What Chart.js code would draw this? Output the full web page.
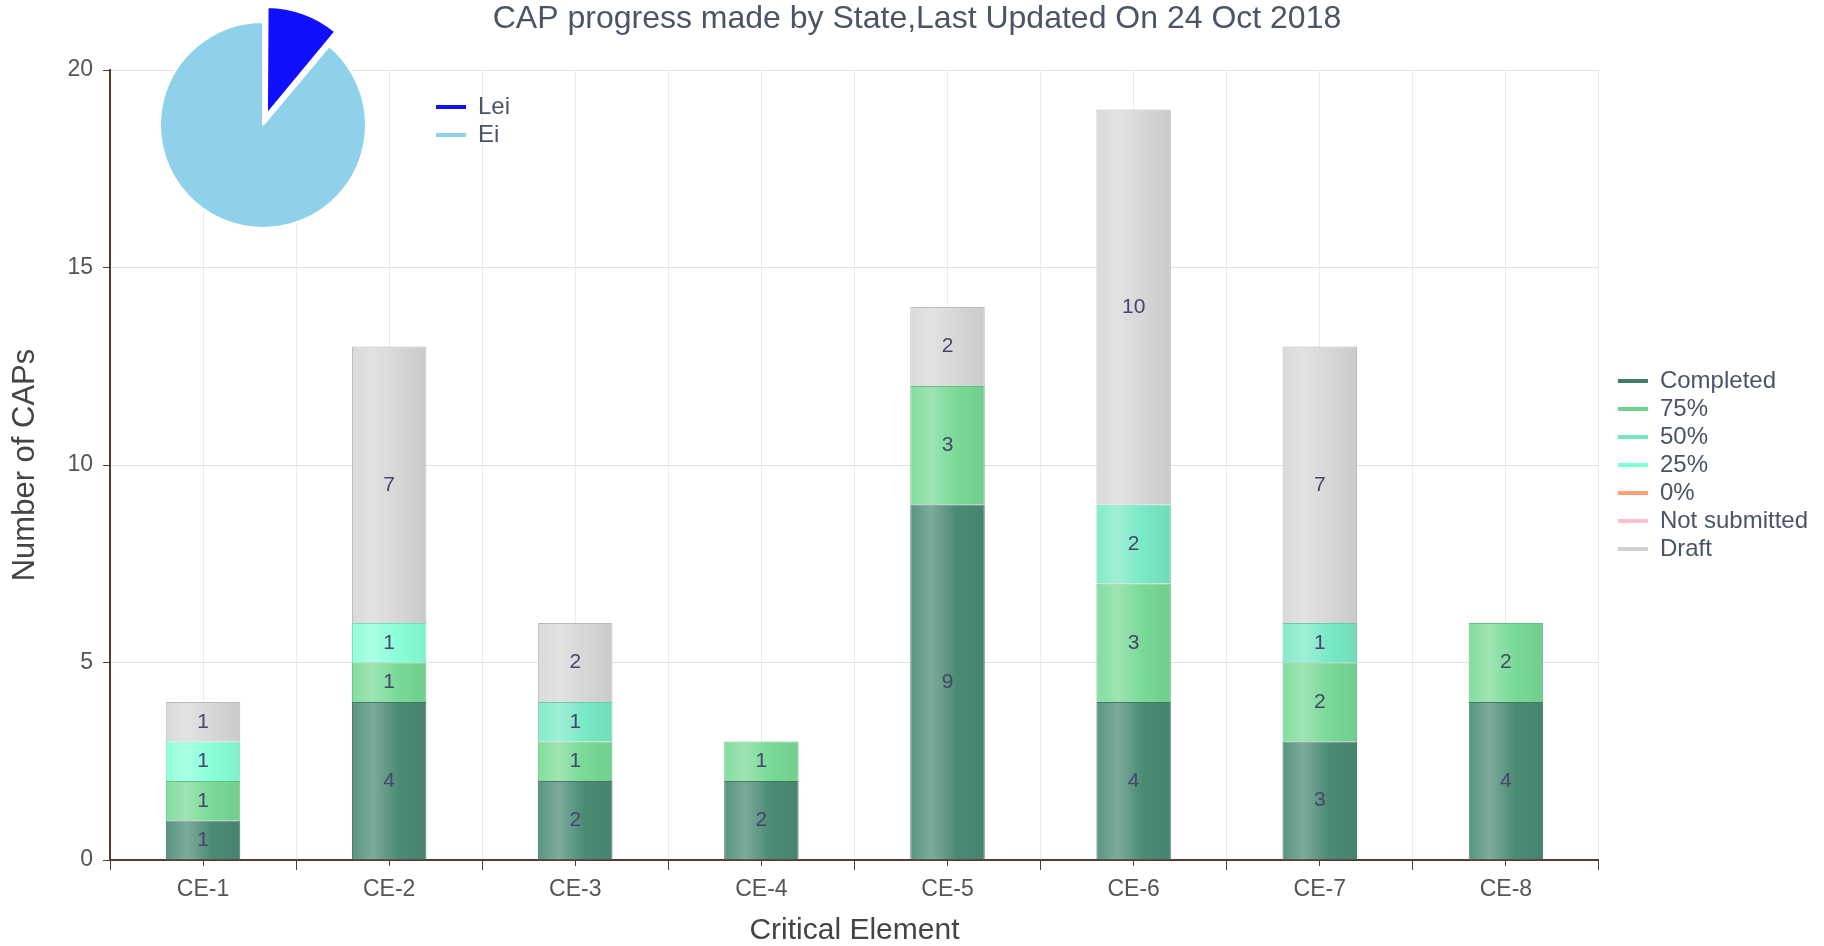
<!DOCTYPE html>
<html>
<head>
<meta charset="utf-8">
<script src="https://cdn.jsdelivr.net/npm/chart.js@4/dist/chart.umd.min.js"></script>
<style>
  html, body { margin: 0; padding: 0; background: #fff; }
  #wrap { position: relative; width: 1824px; height: 946px; }
  #mainChart, #pieChart { position: absolute; left: 0; top: 0; }
</style>
</head>
<body>
<div id="wrap">
  <canvas id="mainChart" width="1824" height="946"></canvas>
  <canvas id="pieChart" width="560" height="250"></canvas>
</div>
<script>
const categories = ["CE-1", "CE-2", "CE-3", "CE-4", "CE-5", "CE-6", "CE-7", "CE-8"];
const completed = [1, 4, 2, 2, 9, 4, 3, 4];
const pct75 = [1, 1, 1, 1, 3, 3, 2, 2];
const pct50 = [0, 0, 1, 0, 0, 2, 1, 0];
const pct25 = [1, 1, 0, 0, 0, 0, 0, 0];
const pct0 = [0, 0, 0, 0, 0, 0, 0, 0];
const notSubmitted = [0, 0, 0, 0, 0, 0, 0, 0];
const draft = [1, 7, 2, 0, 2, 10, 7, 0];
const yTicks = [0, 5, 10, 15, 20];

const seriesNames = ["Completed", "75%", "50%", "25%", "0%", "Not submitted", "Draft"];
const seriesValues = [completed, pct75, pct50, pct25, pct0, notSubmitted, draft];

const pieLabels = ["Lei", "Ei"];
const pieValues = [1, 8];

// styles
const fontFamily = '"Liberation Sans", Arial, Helvetica, sans-serif';
const barColors = ["#4b8b74", "#78da96", "#79e9c6", "#88ffd8", "#ffa07a", "#ffc0cb", "#d7d7d7"];
const legendColors = ["#3f7f67", "#6cd68c", "#72e6c2", "#80ffd4", "#ff9f72", "#ffc0cb", "#d0d0d0"];
const pieColors = ["#1010ff", "#8fd0ea"];
const axisColor = "#5b3b30";
const barShare = 0.4;

Chart.defaults.font.family = fontFamily;

function hexToRgb(hex) {
  const n = parseInt(hex.slice(1), 16);
  return [(n >> 16) & 255, (n >> 8) & 255, n & 255];
}

function mix(hex, other, t) {
  const a = hexToRgb(hex);
  const b = hexToRgb(other);
  const c = a.map((v, i) => Math.round(v + (b[i] - v) * t));
  return "rgb(" + c.join(",") + ")";
}

// glassy horizontal shading, like the original bars
function glassFill(base) {
  const light = mix(base, "#ffffff", 0.28);
  const dark = mix(base, "#000000", 0.06);
  return (ctx) => {
    const chart = ctx.chart;
    const xs = chart.scales.x;
    if (ctx.type !== "data" || !xs || !chart.chartArea) return base;
    const cx = xs.getPixelForValue(ctx.dataIndex);
    const half = (xs.width / categories.length) * barShare / 2;
    const g = chart.ctx.createLinearGradient(cx - half, 0, cx + half, 0);
    g.addColorStop(0, mix(base, "#ffffff", 0.08));
    g.addColorStop(0.28, light);
    g.addColorStop(0.62, base);
    g.addColorStop(1, dark);
    return g;
  };
}

const barLabels = {
  id: "barLabels",
  afterDatasetsDraw(chart) {
    const { ctx } = chart;
    ctx.save();
    ctx.font = "21px " + fontFamily;
    ctx.fillStyle = "#46466c";
    ctx.textAlign = "center";
    ctx.textBaseline = "middle";
    chart.data.datasets.forEach((ds, i) => {
      const meta = chart.getDatasetMeta(i);
      if (meta.hidden) return;
      meta.data.forEach((bar, j) => {
        const v = ds.data[j];
        if (!v) return;
        ctx.fillText(String(v), bar.x, (bar.y + bar.base) / 2);
      });
    });
    ctx.restore();
  },
};

const mainChart = new Chart(document.getElementById("mainChart"), {
  type: "bar",
  data: {
    labels: categories,
    datasets: seriesNames.map((name, i) => ({
      label: name,
      data: seriesValues[i].map((v) => (v ? v : null)),
      backgroundColor: glassFill(barColors[i]),
      borderColor: mix(barColors[i], "#000000", 0.13),
      borderWidth: 1,
      categoryPercentage: barShare,
      barPercentage: 1,
    })),
  },
  options: {
    responsive: false,
    animation: false,
    layout: { padding: { top: 0, right: 6, bottom: 0, left: 16 } },
    plugins: {
      title: {
        display: true,
        text: "CAP progress made by State,Last Updated On 24 Oct 2018",
        color: "#4b5567",
        font: { size: 32, weight: "normal" },
        padding: { top: 0, bottom: 31.6 },
      },
      legend: {
        position: "right",
        fullSize: false,
        align: "center",
        labels: {
          usePointStyle: true,
          pointStyleWidth: 30,
          padding: 4,
          color: "#4a5468",
          font: { size: 24 },
          generateLabels: (chart) =>
            chart.data.datasets.map((ds, i) => ({
              text: ds.label,
              fillStyle: legendColors[i],
              strokeStyle: legendColors[i],
              fontColor: "#4a5468",
              lineWidth: 4,
              pointStyle: "line",
              hidden: !chart.isDatasetVisible(i),
              datasetIndex: i,
            })),
        },
      },
      tooltip: { enabled: false },
    },
    scales: {
      x: {
        stacked: true,
        offset: true,
        grid: { offset: true, color: "#ebebeb", tickColor: axisColor, tickLength: 10 },
        border: { color: axisColor, width: 2 },
        ticks: { color: "#555555", font: { size: 23 }, padding: 6 },
        title: {
          display: true,
          text: "Critical Element",
          color: "#444444",
          font: { size: 30 },
          padding: { top: 6, bottom: -3 },
        },
        afterFit: (s) => { s.height = 86; },
      },
      x2: {
        type: "category",
        position: "bottom",
        weight: -1,
        offset: true,
        grid: { offset: false, color: "#ebebeb", tickColor: axisColor, tickLength: 6 },
        border: { display: false },
        ticks: { display: false },
        afterFit: (s) => { s.height = 0; },
      },
      y: {
        stacked: true,
        min: 0,
        max: 20,
        afterBuildTicks: (s) => { s.ticks = yTicks.map((v) => ({ value: v })); },
        grid: { color: "#dbe4ee", tickColor: axisColor, tickLength: 7 },
        border: { color: axisColor, width: 2 },
        ticks: { color: "#555555", font: { size: 23 }, padding: 10 },
        title: {
          display: true,
          text: "Number of CAPs",
          color: "#444444",
          font: { size: 31 },
          padding: { top: -9, bottom: 0 },
        },
        afterFit: (s) => { s.width = 94; },
      },
      yR: {
        type: "linear",
        position: "right",
        grid: { drawOnChartArea: false, drawTicks: false },
        border: { display: false },
        ticks: { display: false },
        afterFit: (s) => { s.width = 15; },
      },
    },
  },
  plugins: [barLabels],
});

const pieChart = new Chart(document.getElementById("pieChart"), {
  type: "pie",
  data: {
    labels: pieLabels,
    datasets: [
      {
        data: pieValues,
        backgroundColor: pieColors,
        borderColor: "#ffffff",
        borderWidth: 2,
        offset: [46, 0],
        radius: 103,
        clip: false,
      },
    ],
  },
  options: {
    responsive: false,
    animation: false,
    layout: { padding: { left: 94, top: 91, bottom: 91, right: 40 } },
    plugins: {
      legend: {
        position: "right",
        fullSize: false,
        align: "start",
        labels: {
          usePointStyle: true,
          pointStyleWidth: 30,
          padding: 4,
          color: "#4a5468",
          font: { size: 24 },
          generateLabels: (chart) =>
            chart.data.labels.map((label, i) => ({
              text: label,
              fillStyle: pieColors[i],
              strokeStyle: pieColors[i],
              fontColor: "#4a5468",
              lineWidth: 4,
              pointStyle: "line",
              hidden: false,
              index: i,
            })),
        },
      },
      tooltip: { enabled: false },
    },
  },
});
</script>
</body>
</html>
